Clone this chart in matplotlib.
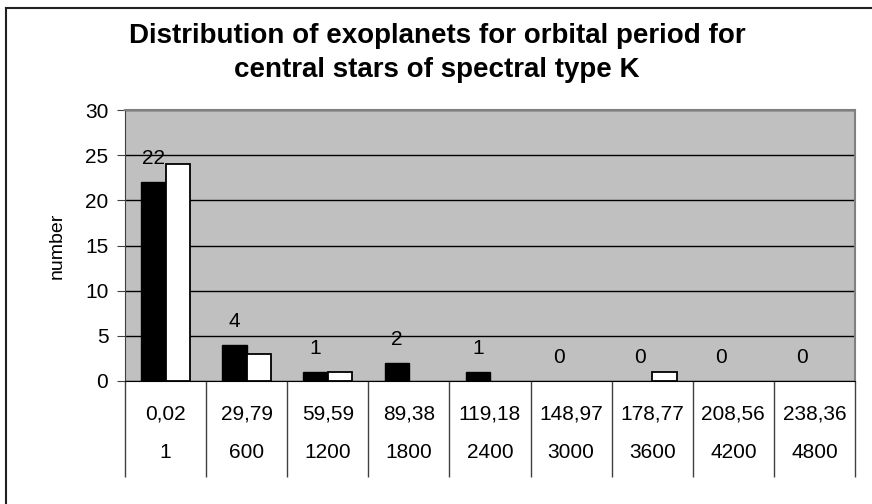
import matplotlib.pyplot as plt
import matplotlib.transforms as mtransforms
from matplotlib.lines import Line2D

# data
period_days = ["0,02", "29,79", "59,59", "89,38", "119,18", "148,97", "178,77", "208,56", "238,36"]
period_upper = ["1", "600", "1200", "1800", "2400", "3000", "3600", "4200", "4800"]
count_black = [22, 4, 1, 2, 1, 0, 0, 0, 0]
count_white = [24, 3, 1, 0, 0, 0, 1, 0, 0]

plt.rcParams['font.family'] = ['Liberation Sans', 'DejaVu Sans']

W, H = 872, 504
fig = plt.figure(figsize=(W / 100, H / 100), dpi=100)

# chart frame (only top and left edge are visible in the picture)
fig.lines.append(Line2D([6 / W, 1], [1 - 7.5 / H] * 2, transform=fig.transFigure, color='#202020', lw=1.5))
fig.lines.append(Line2D([6 / W] * 2, [0, 1 - 7.5 / H], transform=fig.transFigure, color='#202020', lw=1.5))

left, right, top, bottom = 125, 855, 110, 381
ax = fig.add_axes([left / W, 1 - bottom / H, (right - left) / W, (bottom - top) / H])
ax.set_facecolor('#C0C0C0')

x = list(range(len(period_days)))
bw = 0.3
ax.bar([i - bw / 2 for i in x], count_black, width=bw, color='black', edgecolor='black',
       linewidth=[1 if v else 0 for v in count_black], zorder=3)
ax.bar([i + bw / 2 for i in x], count_white, width=bw, color='white', edgecolor='black',
       linewidth=[1.3 if v else 0 for v in count_white], zorder=3)

for i, v in zip(x, count_black):
    ax.annotate(str(v), (i - bw / 2, v), xytext=(0, 10), textcoords='offset points',
                ha='center', va='bottom', fontsize=15)

ax.set_ylim(0, 30)
ax.set_xlim(-0.5, len(x) - 0.5)
ax.set_yticks(range(0, 31, 5))
ax.yaxis.grid(True, color='black', linewidth=1)
ax.set_axisbelow(True)
ax.tick_params(axis='y', labelsize=15, length=6, color='#404040', direction='out', pad=6)
ax.set_xticks([])
for side in ['top', 'right']:
    ax.spines[side].set_color('#808080')
    ax.spines[side].set_linewidth(1.5)
ax.spines['left'].set_color('#404040')
ax.spines['bottom'].set_color('black')
ax.set_ylabel('number', fontsize=14, labelpad=14)

# category table under the axis
trans = mtransforms.blended_transform_factory(ax.transData, ax.transAxes)
row1 = -33 / (bottom - top)
row2 = -72 / (bottom - top)
line_end = -96 / (bottom - top)
for i in x:
    ax.text(i, row1, period_days[i], transform=trans, ha='center', va='center', fontsize=15)
    ax.text(i, row2, period_upper[i], transform=trans, ha='center', va='center', fontsize=15)
ax.vlines([i - 0.5 for i in x] + [len(x) - 0.5], line_end, 0, transform=trans,
          color='#404040', linewidth=1, clip_on=False)

fig.text(0.501, 1 - 53 / H, 'Distribution of exoplanets for orbital period for\ncentral stars of spectral type K',
         ha='center', va='center', fontsize=20, fontweight='bold', linespacing=1.4)

fig.savefig('out.png', dpi=100)
